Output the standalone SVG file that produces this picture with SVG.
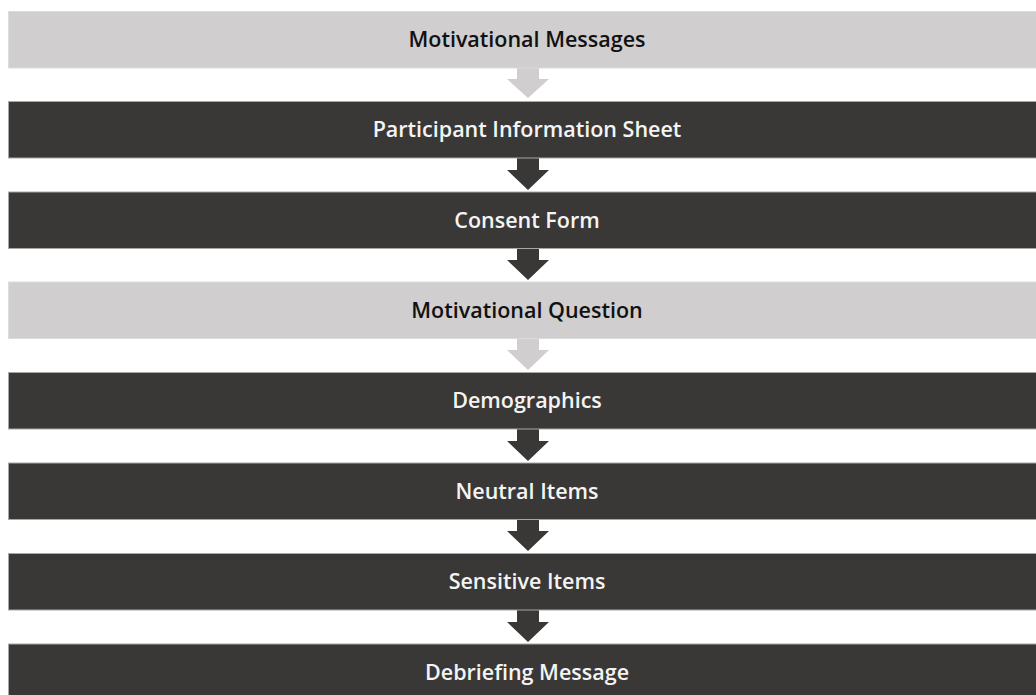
<svg xmlns="http://www.w3.org/2000/svg" width="1036" height="695" viewBox="0 0 1036 695">
<style>
.light{fill:#d0cecf;stroke:#dcdcdc;stroke-width:1}
.dark{fill:#3a3836;stroke:#a8a8a8;stroke-width:1}
.al{fill:#d0cecf}
.ad{fill:#3a3836}
text{font-family:"Open Sans","Liberation Sans",sans-serif;font-weight:600;font-size:21.5px;text-anchor:middle}
.tl{fill:#111111}
.td{fill:#f4f4f4}
</style>
<rect width="1036" height="695" fill="#ffffff"/>
<g id="connectors">
<path class="al" d="M517,68 H539 V79 H549 L528,98 L507,79 H517 Z"/>
<path class="ad" d="M517,158 H539 V170 H549 L528,190 L507,170 H517 Z"/>
<path class="ad" d="M517,248.5 H539 V260 H549 L528,280 L507,260 H517 Z"/>
<path class="al" d="M517,339 H539 V350 H549 L528,370 L507,350 H517 Z"/>
<path class="ad" d="M517,429 H539 V441 H549 L528,461 L507,441 H517 Z"/>
<path class="ad" d="M517,520 H539 V531 H549 L528,551 L507,531 H517 Z"/>
<path class="ad" d="M517,610 H539 V622 H549 L528,642 L507,622 H517 Z"/>
</g>
<g id="n1"><rect class="light" x="8.5" y="11.5" width="1040" height="56.5"/><text class="tl" x="527" y="47">Motivational Messages</text></g>
<g id="n2"><rect class="dark" x="8.5" y="101.5" width="1040" height="56.5"/><text class="td" x="527" y="137">Participant Information Sheet</text></g>
<g id="n3"><rect class="dark" x="8.5" y="192" width="1040" height="56.5"/><text class="td" x="527" y="227.5">Consent Form</text></g>
<g id="n4"><rect class="light" x="8.5" y="282" width="1040" height="56.5"/><text class="tl" x="527" y="317.5">Motivational Question</text></g>
<g id="n5"><rect class="dark" x="8.5" y="372.5" width="1040" height="56.5"/><text class="td" x="527" y="408">Demographics</text></g>
<g id="n6"><rect class="dark" x="8.5" y="463" width="1040" height="56.5"/><text class="td" x="527" y="498.5">Neutral Items</text></g>
<g id="n7"><rect class="dark" x="8.5" y="553.5" width="1040" height="56.5"/><text class="td" x="527" y="589">Sensitive Items</text></g>
<g id="n8"><rect class="dark" x="8.5" y="644" width="1040" height="60"/><text class="td" x="527" y="679.5">Debriefing Message</text></g>
</svg>
